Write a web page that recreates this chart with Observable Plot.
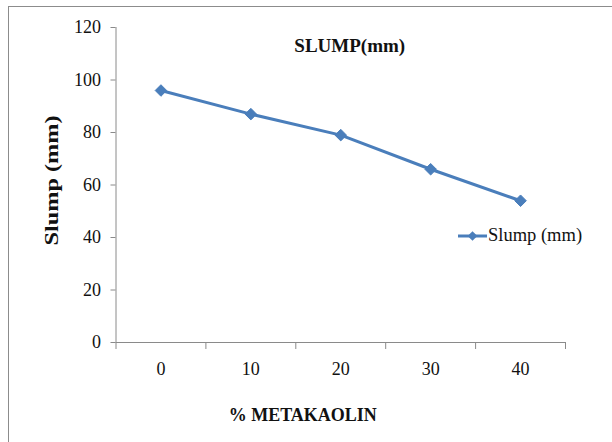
<!DOCTYPE html>
<html>
<head>
<meta charset="utf-8">
<script src="https://cdn.jsdelivr.net/npm/d3@7"></script>
<script src="https://cdn.jsdelivr.net/npm/@observablehq/plot@0.6"></script>
<style>
  html, body { margin: 0; padding: 0; background: #fff; overflow: hidden; }
  #wrap { position: relative; width: 612px; height: 442px; font-family: "Liberation Serif", "Times New Roman", serif; }
  #frame { position: absolute; left: 8px; top: 6px; width: 620px; height: 450px;
           border-left: 1.5px solid #8c8c8c; border-top: 1.5px solid #8c8c8c; box-sizing: border-box; }
  #chart { position: absolute; left: 0; top: 0; }
  #legend { position: absolute; left: 457px; top: 225px; display: flex; align-items: center;
            font-size: 18.5px; color: #111; white-space: nowrap; }
  #legend svg { display: block; }
</style>
</head>
<body>
<div id="wrap">
  <div id="frame"></div>
  <div id="chart"></div>
  <div id="legend"></div>
</div>
<script>
const categories = [0, 10, 20, 30, 40];
const slump = [96, 87, 79, 66, 54];
const yTicks = [0, 20, 40, 60, 80, 100, 120];
const xEdges = [-5, 5, 15, 25, 35, 45];
const title = "SLUMP(mm)";
const xTitle = "% METAKAOLIN";
const yTitle = "Slump (mm)";
const seriesName = "Slump (mm)";

const blue = "#4a7ebb";
const axisGray = "#8a8a8a";
const data = categories.map((c, i) => ({x: c, y: slump[i]}));

const chart = Plot.plot({
  width: 612,
  height: 442,
  marginLeft: 115.5,
  marginRight: 47,
  marginTop: 27,
  marginBottom: 100,
  style: {fontFamily: "Liberation Serif, Times New Roman, serif", background: "transparent", color: "#111"},
  x: {type: "linear", domain: [-5, 45]},
  y: {domain: [0, 120]},
  marks: [
    Plot.ruleX([-5], {stroke: axisGray, strokeWidth: 1}),
    Plot.ruleY([0], {stroke: axisGray, strokeWidth: 1}),
    Plot.axisY(yTicks, {tickSize: 5, tickPadding: 10, stroke: axisGray, fontSize: 18, fill: "#111", label: null}),
    Plot.axisX(xEdges, {tickSize: 7, stroke: axisGray, tickFormat: () => "", label: null}),
    Plot.axisX(categories, {tickSize: 0, tickPadding: 20, fontSize: 18, fill: "#111", label: null}),
    Plot.line(data, {x: "x", y: "y", stroke: blue, strokeWidth: 3}),
    Plot.dot(data, {x: "x", y: "y", symbol: "diamond2", r: 5.2, fill: blue, stroke: blue, strokeWidth: 1}),
    Plot.text([title], {frameAnchor: "top", dx: 9, dy: 18, lineAnchor: "middle", textAnchor: "middle", fontSize: 19, fontWeight: "bold", fill: "#111", className: "ttl"}),
    Plot.text([xTitle], {frameAnchor: "bottom", dx: -38, dy: 73, lineAnchor: "middle", textAnchor: "middle", fontSize: 18, fontWeight: "bold", fill: "#111"}),
    Plot.text([yTitle], {frameAnchor: "left", dx: -64.5, dy: -4.5, rotate: -90, lineAnchor: "middle", textAnchor: "middle", fontSize: 19, fontWeight: "bold", fill: "#111", className: "ytitle"})
  ]
});
document.getElementById("chart").appendChild(chart);
// the reference's rotated title is drawn stretched along its length
d3.select(chart).selectAll(".ytitle text").attr("textLength", 130).attr("lengthAdjust", "spacingAndGlyphs");

// legend
const legend = d3.select("#legend");
const sw = legend.append("svg").attr("width", 31).attr("height", 20);
sw.append("line").attr("x1", 1).attr("x2", 30).attr("y1", 10).attr("y2", 10)
  .attr("stroke", blue).attr("stroke-width", 3);
sw.append("path").attr("transform", "translate(15.5,10)")
  .attr("d", d3.symbol(d3.symbolDiamond2, 60)()).attr("fill", blue);
legend.append("span").text(seriesName);
</script>
</body>
</html>
